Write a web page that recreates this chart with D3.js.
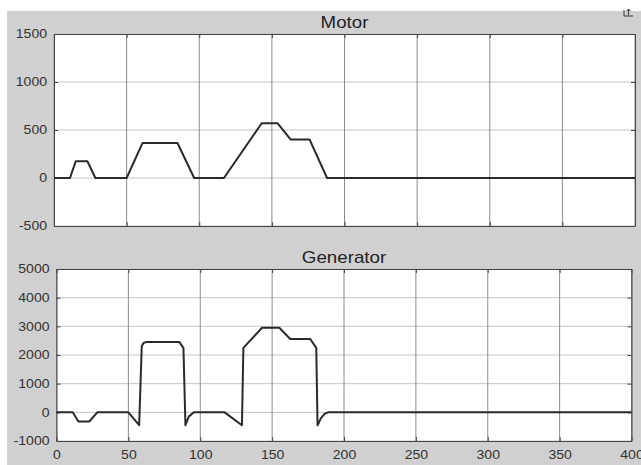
<!DOCTYPE html>
<html><head><meta charset="utf-8">
<script src="https://cdn.jsdelivr.net/npm/d3@7"></script>
<style>
html,body{margin:0;padding:0;background:#fff;}
svg{display:block;font-family:"Liberation Sans",Arial,sans-serif;}
</style></head>
<body>
<svg id="chart" width="641" height="465"></svg>
<script>
// ---- data ----
const xTicks = [0, 50, 100, 150, 200, 250, 300, 350, 400];
const motorTicks = [-500, 0, 500, 1000, 1500];
const genTicks = [-1000, 0, 1000, 2000, 3000, 4000, 5000];

const motorTime  = [0, 11, 15, 23, 28.5, 50, 61, 85, 96.5, 117, 143, 154, 163, 176, 188, 400];
const motorValue = [0, 0, 175, 175, 0, 0, 365, 365, 0, 0, 570, 570, 400, 400, 0, 0];

const genTime  = [0, 11.3, 15.2, 22.8, 28.4, 50, 57.5, 59.3, 60.5, 62.3, 85.5, 88.3, 89.7, 92, 95.5, 117, 129, 130, 143, 155, 162.6, 176.5, 180.7, 181.6, 184, 186.5, 189, 400];
const genValue = [0, 0, -320, -320, 0, 0, -450, 2300, 2420, 2450, 2450, 2250, -450, -150, 0, 0, -450, 2250, 2950, 2950, 2560, 2560, 2250, -450, -200, -50, 0, 0];

// ---- drawing ----
const svg = d3.select("#chart");
const SX = 1.17; // horizontal text stretch seen in the reference

svg.append("rect").attr("x", 7).attr("y", 11).attr("width", 634).attr("height", 454).attr("fill", "#d0d0d0");

// small corner icon
svg.append("path").attr("d", "M624,16 L624,10 M624,16 L633,16 M628.5,15 L628.5,9 M626.5,11 L628.5,9 L630.5,11")
  .attr("stroke", "#333").attr("stroke-width", 1).attr("fill", "none");

function panel(cfg) {
  const x = d3.scaleLinear().domain([0, 400]).range([cfg.left, cfg.right]);
  const y = d3.scaleLinear().domain(cfg.domain).range([cfg.bottom, cfg.top]);
  const g = svg.append("g");
  const fmt = d => String(d);

  g.append("rect").attr("x", cfg.left).attr("y", cfg.top)
    .attr("width", cfg.right - cfg.left).attr("height", cfg.bottom - cfg.top).attr("fill", "#fff");

  // grid
  g.append("g").selectAll("line").data(cfg.yTicks).join("line")
    .attr("x1", cfg.left).attr("x2", cfg.right)
    .attr("y1", d => y(d)).attr("y2", d => y(d))
    .attr("stroke", "#c4c4c4").attr("stroke-width", 1);
  g.append("g").selectAll("line").data(xTicks).join("line")
    .attr("x1", d => x(d)).attr("x2", d => x(d))
    .attr("y1", cfg.top).attr("y2", cfg.bottom)
    .attr("stroke", "#8c8c8c").attr("stroke-width", 1);

  // axes (inward ticks)
  const ay = g.append("g").attr("transform", `translate(${cfg.left},0)`)
    .call(d3.axisLeft(y).tickValues(cfg.yTicks).tickFormat(fmt).tickSizeInner(-4).tickSizeOuter(0).tickPadding(7));
  const ayr = g.append("g").attr("transform", `translate(${cfg.right},0)`)
    .call(d3.axisRight(y).tickValues(cfg.yTicks).tickSizeInner(-4).tickSizeOuter(0).tickFormat(""));
  const axb = g.append("g").attr("transform", `translate(0,${cfg.bottom})`)
    .call(d3.axisBottom(x).tickValues(xTicks).tickFormat(fmt).tickSizeInner(-4).tickSizeOuter(0).tickPadding(9));
  const axt = g.append("g").attr("transform", `translate(0,${cfg.top})`)
    .call(d3.axisTop(x).tickValues(xTicks).tickSizeInner(-4).tickSizeOuter(0).tickFormat(""));
  [ay, ayr, axb, axt].forEach(a => {
    a.select(".domain").attr("stroke", "#444");
    a.selectAll(".tick line").attr("stroke", "#444");
    a.selectAll("text").attr("font-size", 12).attr("fill", "#333").attr("font-family", "Liberation Sans, Arial, sans-serif");
  });
  ay.selectAll("text").attr("x", -7 / SX).attr("transform", `scale(${SX},1)`);
  if (!cfg.showX) axb.selectAll("text").remove();
  else axb.selectAll("text").attr("transform", `scale(${SX},1)`);

  // line
  const pts = cfg.t.map((t, i) => [t, cfg.v[i]]);
  g.append("path").datum(pts)
    .attr("d", d3.line().x(d => x(d[0])).y(d => y(d[1])))
    .attr("fill", "none").attr("stroke", "#2a2a2a").attr("stroke-width", 2).attr("stroke-linejoin", "round");

  // title
  g.append("text").attr("transform", `translate(${(cfg.left + cfg.right) / 2},${cfg.top - 6}) scale(${SX},1)`)
    .attr("text-anchor", "middle").attr("font-size", 16).attr("fill", "#222").text(cfg.title);
}

panel({ title: "Motor", left: 54, right: 635, top: 34, bottom: 226, domain: [-500, 1500], yTicks: motorTicks, t: motorTime, v: motorValue, showX: false });
panel({ title: "Generator", left: 56.5, right: 631.5, top: 269, bottom: 441, domain: [-1000, 5000], yTicks: genTicks, t: genTime, v: genValue, showX: true });
</script>
</body></html>
